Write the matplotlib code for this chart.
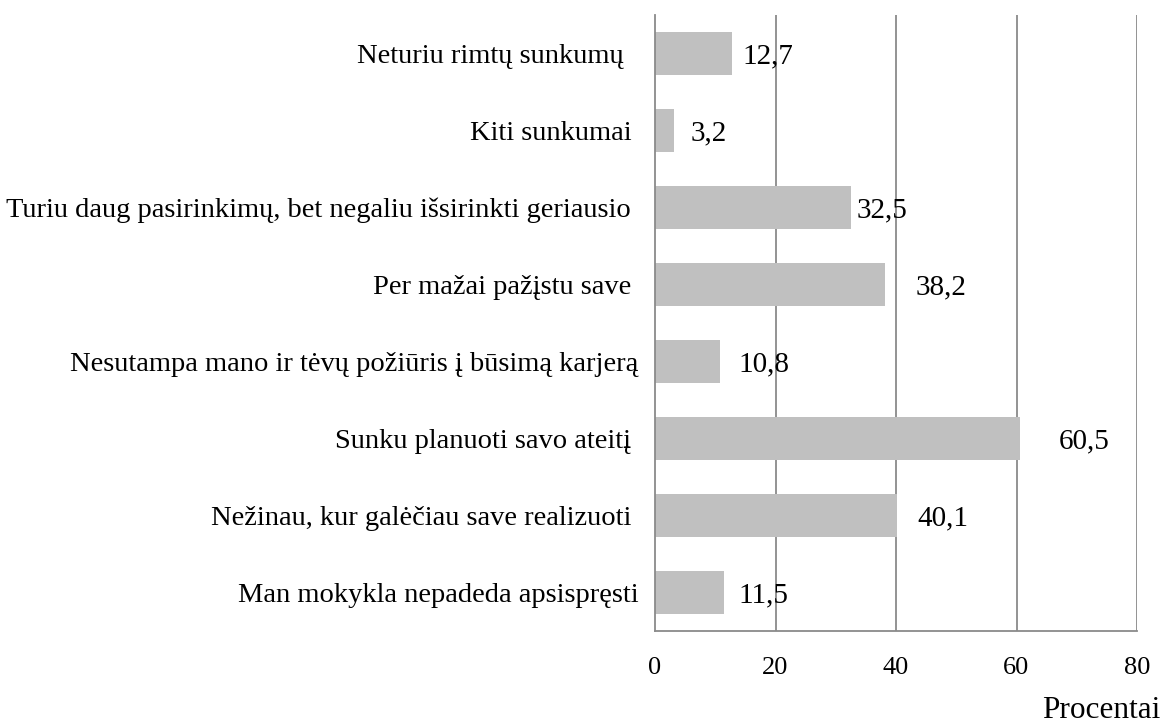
import matplotlib
matplotlib.use("Agg")
import matplotlib.pyplot as plt
from matplotlib.transforms import offset_copy

categories = [
    "Neturiu rimtų sunkumų  ",
    "Kiti sunkumai ",
    "Turiu daug pasirinkimų, bet negaliu išsirinkti geriausio ",
    "Per mažai pažįstu save ",
    "Nesutampa mano ir tėvų požiūris į būsimą karjerą",
    "Sunku planuoti savo ateitį ",
    "Nežinau, kur galėčiau save realizuoti ",
    "Man mokykla nepadeda apsispręsti",
]
values = [12.7, 3.2, 32.5, 38.2, 10.8, 60.5, 40.1, 11.5]
value_labels = ["12,7", "3,2", "32,5", "38,2", "10,8", "60,5", "40,1", "11,5"]
x_ticks = [0, 20, 40, 60, 80]
x_label = "Procentai"
# label nudges (px) to the right of bar ends, as in the reference
label_nudge_px = [11, 16, 6, 30, 18, 39, 21, 14]

plt.rcParams["font.family"] = ["Liberation Serif", "DejaVu Serif"]

fig = plt.figure(figsize=(11.62, 7.26), dpi=100)
ax = fig.add_axes([655 / 1162, 1 - 631 / 726, (1137 - 655) / 1162, (631 - 15) / 726])

ypos = list(range(len(categories)))
ax.barh(ypos, values, height=0.56, color="#C0C0C0", zorder=2)
ax.set_ylim(len(categories) - 0.5, -0.5)
ax.set_xlim(0, 80)

ax.set_yticks(ypos)
ax.set_yticklabels(categories, fontsize=20.5)
ax.set_xticks(x_ticks)
ax.set_xticklabels([str(t) for t in x_ticks], fontsize=19)
ax.tick_params(axis="y", length=0, pad=12)
ax.tick_params(axis="x", length=0, pad=19)

for xv in x_ticks[1:]:
    ax.axvline(xv, color="#8a8a8a", lw=1.3, zorder=1)

for s in ["top", "right"]:
    ax.spines[s].set_visible(False)
for s in ["left", "bottom"]:
    ax.spines[s].set_color("#8a8a8a")
    ax.spines[s].set_linewidth(1.3)

for y, v, lab, nud in zip(ypos, values, value_labels, label_nudge_px):
    tr = offset_copy(ax.transData, fig=fig, x=nud * 72 / 100, y=-2, units="points")
    ax.text(v, y, lab, transform=tr, ha="left", va="center", fontsize=21, zorder=3)

fig.text(1160 / 1162, 1 - 710 / 726, x_label, ha="right", va="center", fontsize=22.5)

fig.savefig("out.png", dpi=100)
